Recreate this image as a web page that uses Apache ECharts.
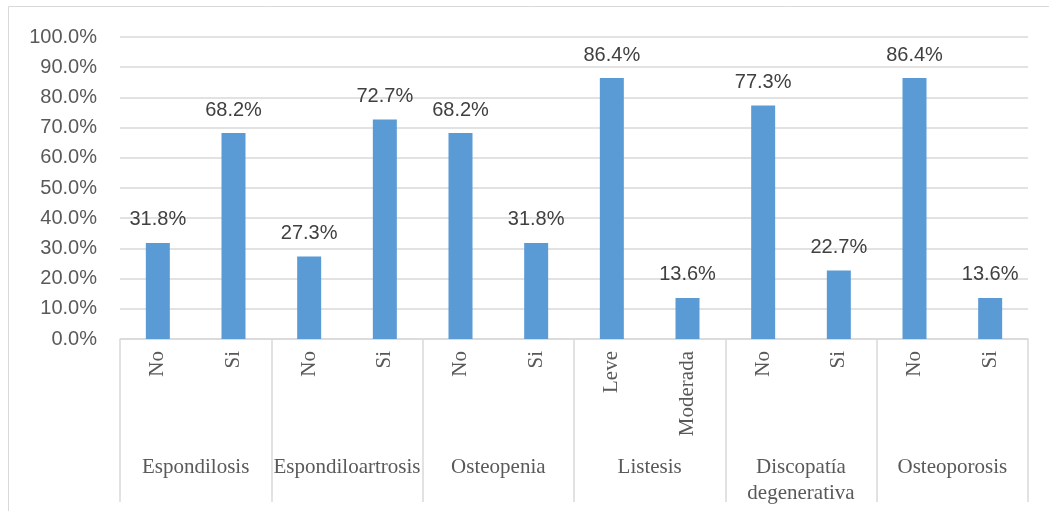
<!DOCTYPE html>
<html>
<head>
<meta charset="utf-8">
<script src="https://cdn.jsdelivr.net/npm/echarts@6/dist/echarts.min.js"></script>
<style>
  html, body { margin: 0; padding: 0; background: #fff; }
  #chart { width: 1049px; height: 511px; }
</style>
</head>
<body>
<div id="chart"></div>
<script>
// Sub-category of each bar, its parent group, and the percentage per bar
const subCategories = ['No', 'Si', 'No', 'Si', 'No', 'Si', 'Leve', 'Moderada', 'No', 'Si', 'No', 'Si'];
const groups = ['Espondilosis', 'Espondiloartrosis', 'Osteopenia', 'Listesis', 'Discopatía\ndegenerativa', 'Osteoporosis'];
const percentages = [31.8, 68.2, 27.3, 72.7, 68.2, 31.8, 86.4, 13.6, 77.3, 22.7, 86.4, 13.6];
const yTicks = { min: 0, max: 100, step: 10 };

const chart = echarts.init(document.getElementById('chart'), null, { renderer: 'canvas' });
const grey = '#595959';
const lineGrey = '#d9d9d9';

chart.setOption({
  animation: false,
  backgroundColor: '#fff',
  // chart-area frame; it runs past the right and bottom edges of the canvas
  graphic: [{
    type: 'rect',
    shape: { x: 8.5, y: 6.5, width: 1050, height: 520 },
    style: { fill: null, stroke: lineGrey, lineWidth: 1 },
    silent: true
  }],
  grid: { left: 120, right: 21, top: 37, bottom: 172, containLabel: false },
  xAxis: [{
    type: 'category',
    data: subCategories,
    position: 'bottom',
    axisLine: { show: true, lineStyle: { color: lineGrey, width: 1.5 } },
    axisTick: { show: false },
    axisLabel: {
      rotate: 90,
      margin: 12,
      interval: 0,
      color: grey,
      fontFamily: '"Liberation Serif", "Times New Roman", serif',
      fontSize: 21
    }
  }, {
    type: 'category',
    data: groups,
    position: 'bottom',
    offset: 0,
    axisLine: { show: false },
    axisTick: { show: true, length: 163, lineStyle: { color: lineGrey, width: 1.5 } },
    axisLabel: {
      margin: 115,
      interval: 0,
      color: grey,
      fontFamily: '"Liberation Serif", "Times New Roman", serif',
      fontSize: 21,
      lineHeight: 26
    }
  }],
  yAxis: {
    type: 'value',
    min: yTicks.min,
    max: yTicks.max,
    interval: yTicks.step,
    axisLine: { show: false },
    axisTick: { show: false },
    splitLine: { lineStyle: { color: lineGrey, width: 1.5 } },
    axisLabel: {
      margin: 23,
      color: grey,
      fontFamily: '"Liberation Sans", Arial, sans-serif',
      fontSize: 20,
      formatter: v => v.toFixed(1) + '%'
    }
  },
  series: [{
    type: 'bar',
    xAxisIndex: 0,
    data: percentages,
    barWidth: 24,
    itemStyle: { color: '#5b9bd5' },
    label: {
      show: true,
      position: 'top',
      distance: 13,
      color: '#404040',
      fontFamily: '"Liberation Sans", Arial, sans-serif',
      fontSize: 20,
      formatter: p => p.value.toFixed(1) + '%'
    }
  }]
});
</script>
</body>
</html>
